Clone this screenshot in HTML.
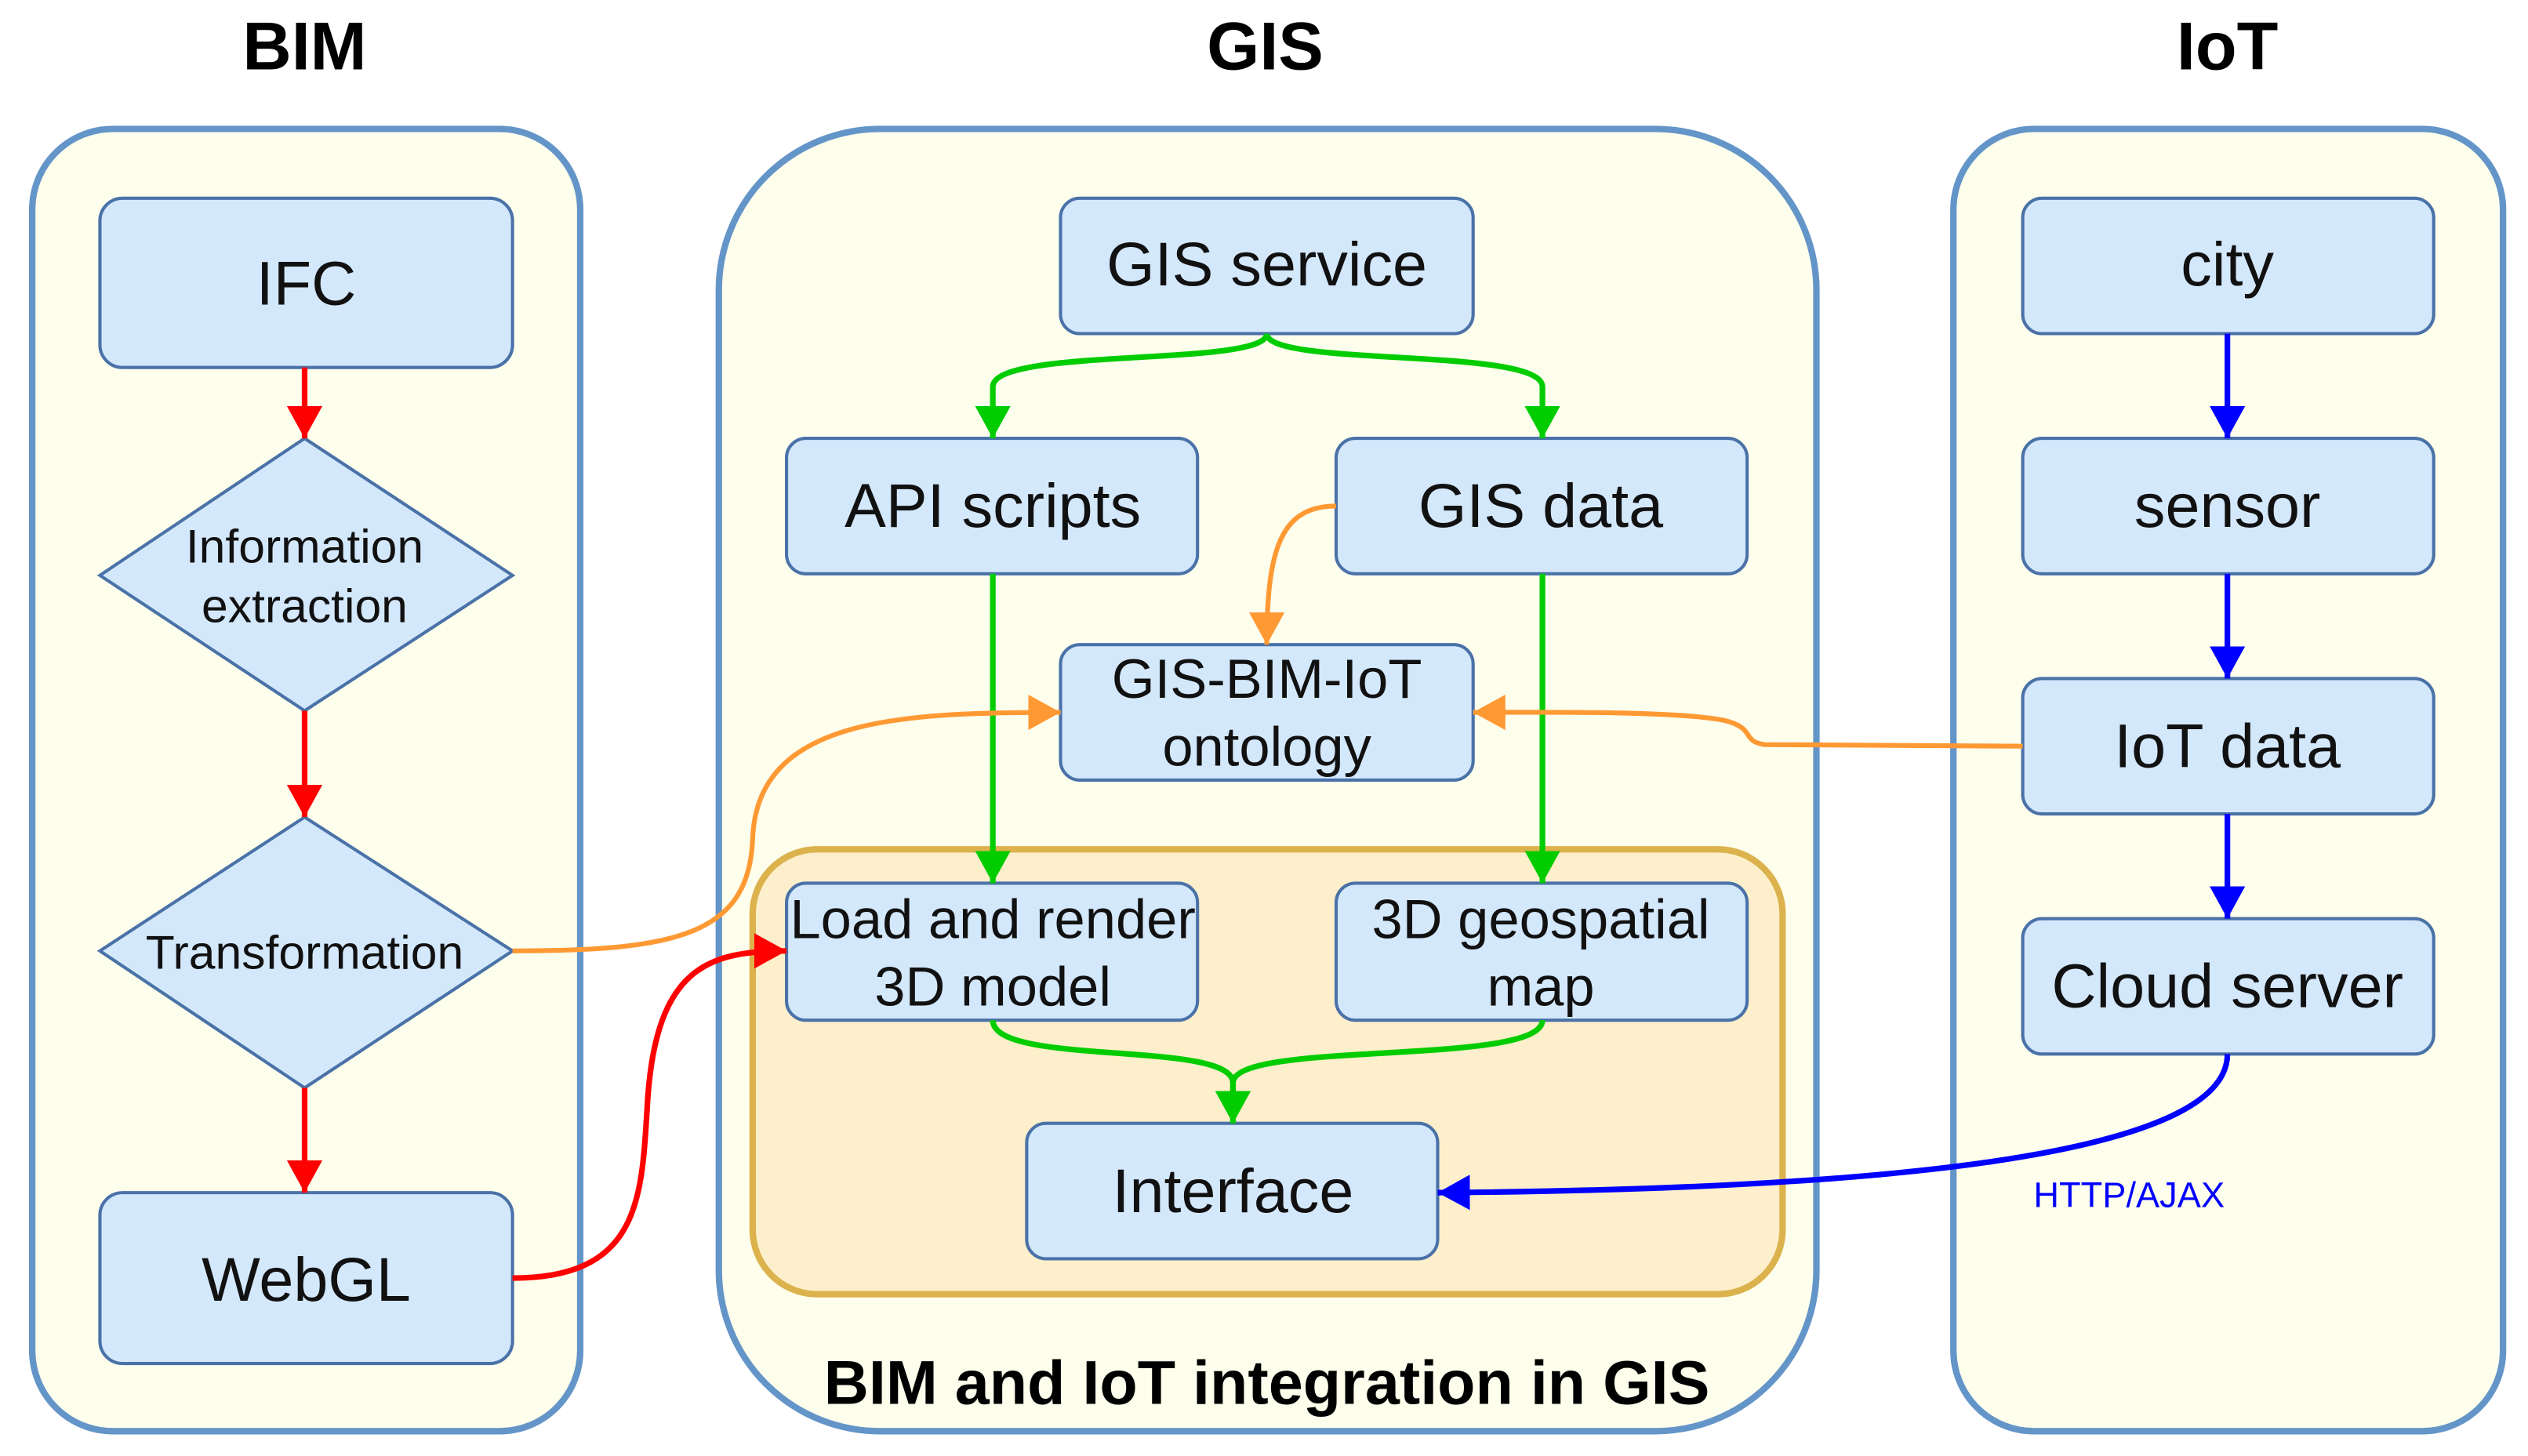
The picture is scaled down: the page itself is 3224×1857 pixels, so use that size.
<!DOCTYPE html>
<html><head><meta charset="utf-8"><style>
html,body{margin:0;padding:0;background:#fff;}
svg{display:block;}
text{font-family:"Liberation Sans",Arial,sans-serif;}
</style></head><body>
<svg width="3224" height="1857" viewBox="0 0 1568.5 903.4" preserveAspectRatio="none" xmlns="http://www.w3.org/2000/svg">
<defs>
<marker id="ar" markerUnits="userSpaceOnUse" markerWidth="24" markerHeight="24" refX="20" refY="11" orient="auto"><path d="M0,0 L20,11 L0,22 Z" fill="#ff0000"/></marker>
<marker id="ag" markerUnits="userSpaceOnUse" markerWidth="24" markerHeight="24" refX="20" refY="11" orient="auto"><path d="M0,0 L20,11 L0,22 Z" fill="#00cc00"/></marker>
<marker id="ao" markerUnits="userSpaceOnUse" markerWidth="24" markerHeight="24" refX="20" refY="11" orient="auto"><path d="M0,0 L20,11 L0,22 Z" fill="#ff9933"/></marker>
<marker id="ab" markerUnits="userSpaceOnUse" markerWidth="24" markerHeight="24" refX="20" refY="11" orient="auto"><path d="M0,0 L20,11 L0,22 Z" fill="#0000ff"/></marker>
</defs>
<g font-weight="bold" font-size="42" text-anchor="middle" fill="#000">
<text x="189" y="43">BIM</text><text x="785" y="43">GIS</text><text x="1382" y="43">IoT</text>
</g>
<g fill="#fefeed" stroke="#6495c8" stroke-width="4">
<rect x="20" y="80" width="340" height="808" rx="50"/>
<rect x="446" y="80" width="681" height="808" rx="100"/>
<rect x="1212" y="80" width="341" height="808" rx="50"/>
</g>
<rect x="467" y="527" width="639" height="276" rx="40" fill="#fdefcc" stroke="#dcb24d" stroke-width="4"/>
<g fill="#d4e8fc" stroke="#4a72a8" stroke-width="2">
<rect x="62" y="123" width="256" height="105" rx="14"/>
<polygon points="189,272 318,357 189,441 62,357"/>
<polygon points="189,507 318,590 189,675 62,590"/>
<rect x="62" y="740" width="256" height="106" rx="14"/>
<rect x="658" y="123" width="256" height="84" rx="12"/>
<rect x="488" y="272" width="255" height="84" rx="12"/>
<rect x="829" y="272" width="255" height="84" rx="12"/>
<rect x="658" y="400" width="256" height="84" rx="12"/>
<rect x="488" y="548" width="255" height="85" rx="12"/>
<rect x="829" y="548" width="255" height="85" rx="12"/>
<rect x="637" y="697" width="255" height="84" rx="12"/>
<rect x="1255" y="123" width="255" height="84" rx="12"/>
<rect x="1255" y="272" width="255" height="84" rx="12"/>
<rect x="1255" y="421" width="255" height="84" rx="12"/>
<rect x="1255" y="570" width="255" height="84" rx="12"/>
</g>
<g font-size="38.5" text-anchor="middle" fill="#111">
<text x="190" y="189">IFC</text>
<text x="190" y="807">WebGL</text>
<text x="786" y="177">GIS service</text>
<text x="616" y="327">API scripts</text>
<text x="956" y="327">GIS data</text>
<text x="765" y="752">Interface</text>
<text x="1382" y="177">city</text>
<text x="1382" y="327">sensor</text>
<text x="1382" y="476">IoT data</text>
<text x="1382" y="625">Cloud server</text>
</g>
<g font-size="34.3" text-anchor="middle" fill="#111">
<text x="786" y="433">GIS-BIM-IoT</text>
<text x="786" y="475">ontology</text>
<text x="616" y="582">Load and render</text>
<text x="616" y="624">3D model</text>
<text x="956" y="582">3D geospatial</text>
<text x="956" y="624">map</text>
</g>
<g font-size="29.5" text-anchor="middle" fill="#111">
<text x="189" y="349">Information</text>
<text x="189" y="386">extraction</text>
<text x="189" y="601">Transformation</text>
</g>
<text x="786" y="871" font-size="38.5" font-weight="bold" text-anchor="middle">BIM and IoT integration in GIS</text>
<text x="1321" y="749" font-size="22" text-anchor="middle" fill="#0000ff">HTTP/AJAX</text>
<g fill="none" stroke-width="3.5">
<path d="M189,228 V272" stroke="#ff0000" marker-end="url(#ar)"/>
<path d="M189,441 V507" stroke="#ff0000" marker-end="url(#ar)"/>
<path d="M189,675 V740" stroke="#ff0000" marker-end="url(#ar)"/>
<path d="M318,793 C400,793 398,740 402,680 C408,600 440,590 488,590" stroke="#ff0000" marker-end="url(#ar)"/>
<path d="M1382,207 V272" stroke="#0000ff" marker-end="url(#ab)"/>
<path d="M1382,356 V421" stroke="#0000ff" marker-end="url(#ab)"/>
<path d="M1382,505 V570" stroke="#0000ff" marker-end="url(#ab)"/>
<path d="M786,207 C786,228 616,215 616,240 V272" stroke="#00cc00" marker-end="url(#ag)"/>
<path d="M786,207 C786,228 957,215 957,240 V272" stroke="#00cc00" marker-end="url(#ag)"/>
<path d="M616,356 V548" stroke="#00cc00" marker-end="url(#ag)"/>
<path d="M957,356 V548" stroke="#00cc00" marker-end="url(#ag)"/>
<path d="M616,633 C616,662 765,645 765,672 V697" stroke="#00cc00" marker-end="url(#ag)"/>
<path d="M957,633 C957,662 765,645 765,672 V697" stroke="#00cc00" marker-end="url(#ag)"/>
<path d="M829,314 C795,314 786,340 786,400" stroke="#ff9933" stroke-width="3" marker-end="url(#ao)"/>
<path d="M318,590 C420,590 465,580 467,520 C470,445 560,442 658,442" stroke="#ff9933" stroke-width="3" marker-end="url(#ao)"/>
<path d="M1255,463 L1095,462 C1080,460 1090,452 1070,447 C1040,441 960,442 914,442" stroke="#ff9933" stroke-width="3" marker-end="url(#ao)"/>
<path d="M1382,654 C1382,720 1150,738 892,740" stroke="#0000ff" marker-end="url(#ab)"/>
</g>
</svg>
</body></html>
